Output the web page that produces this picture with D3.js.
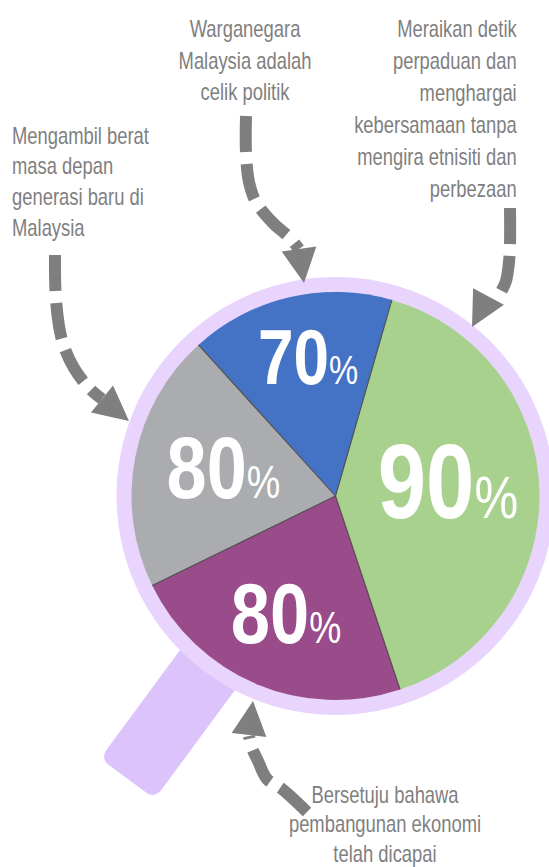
<!DOCTYPE html>
<html>
<head>
<meta charset="utf-8">
<script src="https://cdn.jsdelivr.net/npm/d3@7"></script>
<style>
  html, body { margin: 0; padding: 0; background: #ffffff; }
  svg { display: block; }
  .note { font-family: "Liberation Sans", Arial, sans-serif; fill: #7f7f7f; font-size: 23px; }
  .pct { font-family: "Liberation Sans", Arial, sans-serif; fill: #ffffff; }
</style>
</head>
<body>
<svg id="chart" width="549" height="867"></svg>
<script>
// ---------------- data ----------------
const categories = ["Warganegara", "Perpaduan", "Ekonomi", "Generasi baru"];
const values = [70, 90, 80, 80];                 // percentages shown
const sliceShares = [58.25, 145.5, 82.4, 73.85]; // slice sizes as drawn (degrees)
const sliceColors = ["#4472c4", "#a9d18e", "#9a4b8a", "#abacb0"];
const noteLines = [
  ["Warganegara", "Malaysia adalah", "celik politik"],
  ["Meraikan detik", "perpaduan dan", "menghargai", "kebersamaan tanpa", "mengira etnisiti dan", "perbezaan"],
  ["Bersetuju bahawa", "pembangunan ekonomi", "telah dicapai"],
  ["Mengambil berat", "masa depan", "generasi baru di", "Malaysia"]
];

// ---------------- layout ----------------
const cx = 335.5, cy = 496, R = 204, ringR = 219;
const deg = Math.PI / 180;
const startDeg = -42.2;
const condense = 0.8;   // horizontal squeeze to imitate a condensed face
const labelLayout = [
  { r: 142.7, nudge: 2.0,  numFs: 78,  pctFs: 40 },
  { r: 113.6, nudge: -6.9, numFs: 106, pctFs: 60 },
  { r: 126.1, nudge: 0.35, numFs: 86,  pctFs: 44 },
  { r: 116.0, nudge: 4.1,  numFs: 88,  pctFs: 46 }
];
const noteLayout = [
  { x: 245,   y: 37,    lh: 31.6, anchor: "middle" },
  { x: 516.7, y: 37.3,  lh: 31.9, anchor: "end" },
  { x: 385,   y: 803,   lh: 29.5, anchor: "middle" },
  { x: 12,    y: 143.5, lh: 31,   anchor: "start" }
];
const arrowLayout = [
  { pts: [[246,116],[246,152],[249,182],[256,202],[273,223],[290,238],[299,249]], base: [299,249], tip: [304,283] },
  { pts: [[510,208],[510,245],[509,262],[506,281],[501,292]], base: [488.5,296.5], tip: [472,327] },
  { pts: [[307,812],[282,789],[267,779],[258,761],[252,748],[249,736]], base: [249,735], tip: [253,701] },
  { pts: [[55,255],[56,300],[62,340],[74,368],[90,389],[102,399]], base: [102,399], tip: [129,421] }
];

const svg = d3.select("#chart");

// magnifier handle
const handleAngle = 126.35;
svg.append("g")
  .attr("transform", `translate(${cx},${cy}) rotate(${handleAngle})`)
  .append("rect")
  .attr("x", 180).attr("y", -34).attr("width", 171).attr("height", 68)
  .attr("rx", 10).attr("ry", 10)
  .attr("fill", "#dcc3fb");

// ring
svg.append("circle").attr("cx", cx).attr("cy", cy).attr("r", ringR).attr("fill", "#e8d4fd");

// pie
const pie = d3.pie().sort(null).value((d, i) => sliceShares[i])
  .startAngle(startDeg * deg).endAngle((startDeg + 360) * deg);
const arcs = pie(values);
const arc = d3.arc().innerRadius(0).outerRadius(R);
const g = svg.append("g").attr("transform", `translate(${cx},${cy})`);
g.selectAll("path.slice").data(arcs).join("path")
  .attr("class", "slice")
  .attr("d", arc)
  .attr("fill", (d, i) => sliceColors[i]);

// slice separators
g.selectAll("line.sep").data(arcs).join("line")
  .attr("class", "sep")
  .attr("x1", 0).attr("y1", 0)
  .attr("x2", d => d3.pointRadial(d.startAngle, R)[0])
  .attr("y2", d => d3.pointRadial(d.startAngle, R)[1])
  .attr("stroke", "#4d4d4d").attr("stroke-width", 1.1);

// value labels
arcs.forEach((d, i) => {
  const L = labelLayout[i];
  const mid = (d.startAngle + d.endAngle) / 2 + L.nudge * deg;
  const [x, y] = d3.pointRadial(mid, L.r);
  const t = g.append("text").attr("class", "pct")
    .attr("transform", `translate(${x},${y + 0.36 * L.numFs}) scale(${0.82},1)`)
    .attr("text-anchor", "middle");
  t.append("tspan").attr("font-weight", "bold").attr("font-size", L.numFs).text(values[i]);
  t.append("tspan").attr("font-weight", "normal").attr("font-size", L.pctFs).text("%");
});

// arrows
const line = d3.line().curve(d3.curveCatmullRom.alpha(0.5));
arrowLayout.forEach(a => {
  svg.append("path")
    .attr("d", line(a.pts))
    .attr("fill", "none")
    .attr("stroke", "#7f7f7f")
    .attr("stroke-width", 12)
    .attr("stroke-dasharray", "36 12");
  const dx = a.tip[0] - a.base[0], dy = a.tip[1] - a.base[1];
  const len = Math.hypot(dx, dy);
  const nx = -dy / len, ny = dx / len, hw = 17.5;
  svg.append("path")
    .attr("d", `M${a.tip[0]},${a.tip[1]}L${a.base[0] + nx * hw},${a.base[1] + ny * hw}L${a.base[0] - nx * hw},${a.base[1] - ny * hw}Z`)
    .attr("fill", "#7f7f7f");
});

// notes
noteLines.forEach((lines, i) => {
  const N = noteLayout[i];
  const t = svg.append("text").attr("class", "note").attr("text-anchor", N.anchor)
    .attr("transform", `translate(${N.x},${N.y}) scale(${condense},1)`);
  lines.forEach((s, j) => {
    t.append("tspan").attr("x", 0).attr("y", j * N.lh).text(s);
  });
});
</script>
</body>
</html>
